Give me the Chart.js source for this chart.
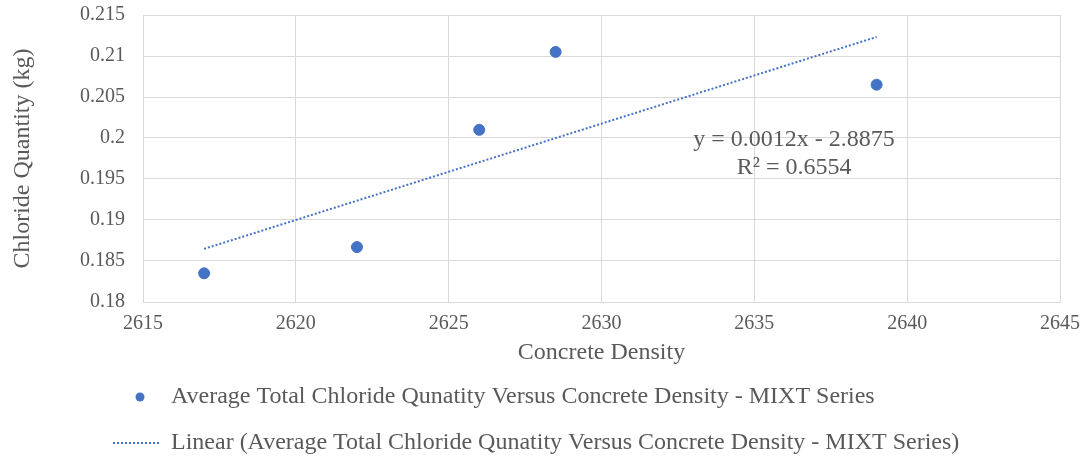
<!DOCTYPE html>
<html lang="en">
<head>
    <title>Chloride Quantity vs Concrete Density</title>
    <script src="https://cdn.jsdelivr.net/npm/chart.js"></script>
    <style>
        body { margin: 0; background: #fff; }
        .chart-container { width: 1086px; height: 459px; position: relative; }
    </style>
</head>
<body>
    <div class="chart-container">
        <canvas id="densityChart"></canvas>
    </div>

    <script>
        // Data
        const density = [2617, 2622, 2626, 2628.5, 2639];
        const chloride = [0.1835, 0.1867, 0.2010, 0.2105, 0.2065];
        const xTicks = [2615, 2620, 2625, 2630, 2635, 2640, 2645];
        const yTicks = [0.18, 0.185, 0.19, 0.195, 0.2, 0.205, 0.21, 0.215];
        const seriesName = 'Average Total Chloride Qunatity Versus Concrete Density - MIXT Series';
        const equationLines = ['y = 0.0012x - 2.8875', 'R\u00B2 = 0.6554'];

        // Least squares trendline through the points
        const n = density.length;
        const mx = density.reduce((a, b) => a + b, 0) / n;
        const my = chloride.reduce((a, b) => a + b, 0) / n;
        let sxy = 0, sxx = 0;
        density.forEach((x, i) => {
            sxy += (x - mx) * (chloride[i] - my);
            sxx += (x - mx) * (x - mx);
        });
        const slope = sxy / sxx;
        const icept = my - slope * mx;
        const xMin = Math.min(...density), xMax = Math.max(...density);
        const trend = [
            { x: xMin, y: slope * xMin + icept },
            { x: xMax, y: slope * xMax + icept }
        ];

        const textColor = '#595959';
        const gridColor = '#d9d9d9';
        const blue = '#4472C4';
        const serif = "'Liberation Serif', 'Times New Roman', serif";

        // legend symbols (Excel style: dot, and short dotted line)
        const markerIcon = document.createElement('canvas');
        markerIcon.width = 50; markerIcon.height = 12;
        let c = markerIcon.getContext('2d');
        c.fillStyle = blue;
        c.beginPath(); c.arc(31, 6, 4.5, 0, Math.PI * 2); c.fill();

        const lineIcon = document.createElement('canvas');
        lineIcon.width = 50; lineIcon.height = 4;
        c = lineIcon.getContext('2d');
        c.strokeStyle = blue; c.lineWidth = 2; c.setLineDash([2, 2]);
        c.beginPath(); c.moveTo(4, 2); c.lineTo(50, 2); c.stroke();

        // Equation label, anchored in data units
        const equationPlugin = {
            id: 'equation',
            beforeDraw(chart) {
                // Excel puts the legend entries flush left
                chart.legend.left = 87;
            },
            afterDatasetsDraw(chart) {
                const { ctx, scales } = chart;
                const x = scales.x.getPixelForValue(2636.3);
                const y = scales.y.getPixelForValue(0.1998);
                ctx.save();
                ctx.font = '24px ' + serif;
                ctx.fillStyle = textColor;
                ctx.textAlign = 'center';
                ctx.textBaseline = 'middle';
                equationLines.forEach((line, i) => ctx.fillText(line, x, y + i * 28));
                ctx.restore();
            }
        };

        new Chart(document.getElementById('densityChart'), {
            type: 'scatter',
            data: {
                datasets: [
                    {
                        label: seriesName,
                        data: density.map((x, i) => ({ x: x, y: chloride[i] })),
                        backgroundColor: blue,
                        borderColor: blue,
                        pointRadius: 5.5,
                        pointHoverRadius: 5.5
                    },
                    {
                        label: 'Linear (' + seriesName + ')',
                        data: trend,
                        showLine: true,
                        borderColor: blue,
                        backgroundColor: blue,
                        borderWidth: 2,
                        borderDash: [2, 2],
                        pointRadius: 0,
                        fill: false
                    }
                ]
            },
            options: {
                responsive: true,
                maintainAspectRatio: false,
                animation: false,
                layout: { padding: { top: 15, left: 8, right: 26, bottom: -6 } },
                plugins: {
                    tooltip: { enabled: false },
                    legend: {
                        position: 'bottom',
                        align: 'start',
                        labels: {
                            usePointStyle: true,
                            pointStyleWidth: 50,
                            boxHeight: 6,
                            padding: 22,
                            color: textColor,
                            font: { family: serif, size: 24 },
                            generateLabels: chart => {
                                const items = Chart.defaults.plugins.legend.labels.generateLabels(chart);
                                items[0].pointStyle = markerIcon;
                                items[1].pointStyle = lineIcon;
                                return items;
                            }
                        }
                    }
                },
                scales: {
                    x: {
                        type: 'linear',
                        min: 2615,
                        max: 2645,
                        afterBuildTicks: scale => { scale.ticks = xTicks.map(v => ({ value: v })); },
                        afterFit: scale => {
                            scale.height = 61;
                            scale.paddingLeft = 0;
                            scale.paddingRight = 0;
                        },
                        grid: { color: gridColor, drawTicks: false },
                        border: { color: gridColor },
                        ticks: {
                            color: textColor,
                            padding: 10,
                            font: { family: serif, size: 20 },
                            callback: v => String(v)
                        },
                        title: {
                            display: true,
                            text: 'Concrete Density',
                            color: textColor,
                            padding: { top: 0, bottom: -4 },
                            font: { family: serif, size: 24 }
                        }
                    },
                    y: {
                        type: 'linear',
                        min: 0.18,
                        max: 0.215,
                        afterBuildTicks: scale => { scale.ticks = yTicks.map(v => ({ value: v })); },
                        afterFit: scale => {
                            scale.width = 135;
                            scale.paddingTop = 0;
                            scale.paddingBottom = 0;
                        },
                        grid: { color: gridColor, drawTicks: false },
                        border: { color: gridColor },
                        ticks: {
                            color: textColor,
                            padding: 18,
                            font: { family: serif, size: 20 },
                            callback: v => String(+v.toFixed(3))
                        },
                        title: {
                            display: true,
                            text: 'Chloride Quantity (kg)',
                            color: textColor,
                            padding: 0,
                            font: { family: serif, size: 24 }
                        }
                    }
                }
            },
            plugins: [equationPlugin]
        });
    </script>
</body>
</html>
